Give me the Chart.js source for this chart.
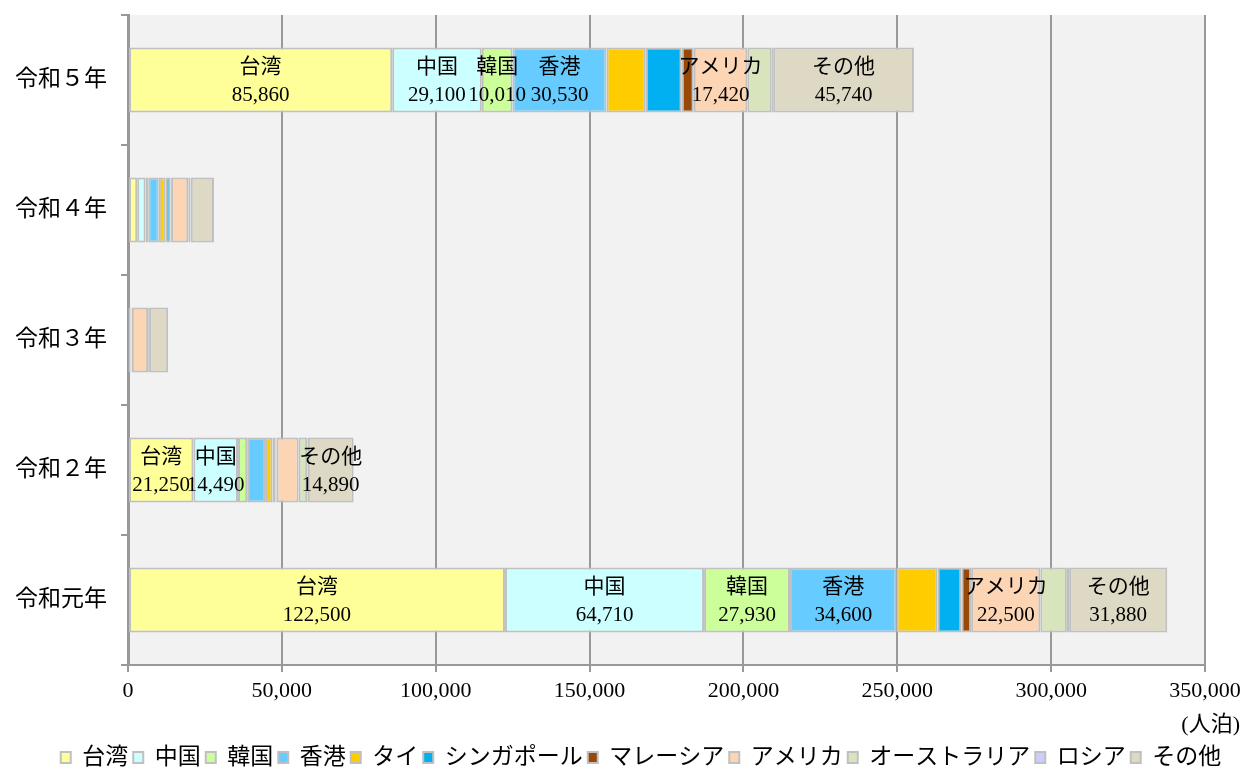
<!DOCTYPE html>
<html>
<head>
<meta charset="utf-8">
<script src="https://cdn.jsdelivr.net/npm/chart.js@4/dist/chart.umd.min.js"></script>
<style>
html,body{margin:0;padding:0;background:#fff;}
#wrap{width:1250px;height:769px;position:relative;}
</style>
</head>
<body>
<div id="wrap"><canvas id="c" width="1250" height="769"></canvas></div>
<script>
const categories = ['令和５年', '令和４年', '令和３年', '令和２年', '令和元年'];
const seriesNames = ['台湾', '中国', '韓国', '香港', 'タイ', 'シンガポール', 'マレーシア', 'アメリカ', 'オーストラリア', 'ロシア', 'その他'];
const taiwan    = [85860, 3000, 200, 21250, 122500];
const china     = [29100, 2700, 500, 14490, 64710];
const korea     = [10010, 900, 100, 3000, 27930];
const hongkong  = [30530, 3400, 200, 5800, 34600];
const thailand  = [12750, 2200, 100, 2400, 13300];
const singapore = [11700, 1600, 100, 1000, 7800];
const malaysia  = [3900, 200, 50, 300, 3160];
const usa       = [17420, 5600, 5300, 7200, 22500];
const australia = [7900, 700, 300, 2800, 8600];
const russia    = [500, 100, 0, 200, 750];
const others    = [45740, 7550, 6200, 14890, 31880];
const seriesValues = [taiwan, china, korea, hongkong, thailand, singapore, malaysia, usa, australia, russia, others];
const seriesColors = ['#FFFF99', '#CCFFFF', '#CCFF99', '#66CCFF', '#FFCC00', '#00B0F0', '#984807', '#FCD5B4', '#D8E4BC', '#CCCCFF', '#DDD9C4'];
const xTicks = [0, 50000, 100000, 150000, 200000, 250000, 300000, 350000];
const unitLabel = '(人泊)';
// which series carry a data label in each category row
const labeledRows = [
  ['台湾', '中国', '韓国', '香港', 'アメリカ', 'その他'],
  [],
  [],
  ['台湾', '中国', 'その他'],
  ['台湾', '中国', '韓国', '香港', 'アメリカ', 'その他']
];

const FONT = "'Liberation Serif', 'Noto Sans CJK JP', serif";
const fmt = v => v.toLocaleString('en-US');

const bgPlugin = {
  id: 'bg',
  beforeDraw(chart) {
    const {ctx, chartArea: a} = chart;
    ctx.save();
    ctx.fillStyle = '#ffffff';
    ctx.fillRect(0, 0, chart.width, chart.height);
    ctx.fillStyle = '#f2f2f2';
    ctx.fillRect(a.left, a.top, a.right - a.left, a.bottom - a.top);
    ctx.restore();
  }
};

const labelPlugin = {
  id: 'segLabels',
  afterDatasetsDraw(chart) {
    const ctx = chart.ctx;
    ctx.save();
    ctx.fillStyle = '#000';
    ctx.textAlign = 'center';
    ctx.textBaseline = 'middle';
    ctx.font = '21px ' + FONT;
    chart.data.datasets.forEach((ds, di) => {
      const meta = chart.getDatasetMeta(di);
      meta.data.forEach((el, i) => {
        if (!labeledRows[i].includes(ds.label)) return;
        const cx = (el.x + el.base) / 2;
        const cy = el.y;
        ctx.fillText(ds.label, cx, cy - 13);
        ctx.fillText(fmt(ds.data[i]), cx, cy + 15);
      });
    });
    ctx.restore();
  }
};

const unitPlugin = {
  id: 'unit',
  afterDraw(chart) {
    const ctx = chart.ctx;
    ctx.save();
    ctx.fillStyle = '#000';
    ctx.textAlign = 'right';
    ctx.textBaseline = 'middle';
    ctx.font = '22px ' + FONT;
    ctx.fillText(unitLabel, chart.chartArea.right + 35, 725);
    ctx.restore();
  }
};

new Chart(document.getElementById('c'), {
  type: 'bar',
  data: {
    labels: categories,
    datasets: seriesNames.map((name, k) => ({
      label: name,
      data: seriesValues[k],
      backgroundColor: seriesColors[k],
      borderColor: '#c0c0c0',
      borderWidth: 2,
      borderSkipped: false,
      categoryPercentage: 1.0,
      barPercentage: 0.5
    }))
  },
  options: {
    indexAxis: 'y',
    responsive: false,
    animation: false,
    devicePixelRatio: 1,
    layout: {padding: {top: 15, right: -32, left: 0, bottom: -10}},
    scales: {
      x: {
        stacked: true,
        min: 0,
        max: 350000,
        afterBuildTicks(scale) { scale.ticks = xTicks.map(v => ({value: v})); },
        afterFit(scale) { scale.height = 76; scale.paddingRight = 45; scale.paddingLeft = 0; },
        ticks: {
          color: '#000',
          font: {family: FONT, size: 22},
          padding: 6,
          maxRotation: 0,
          callback: v => fmt(v)
        },
        grid: {color: '#999', lineWidth: 2, drawTicks: true, tickLength: 7, tickColor: '#999'},
        border: {display: true, color: '#999', width: 2}
      },
      y: {
        stacked: true,
        afterFit(scale) { scale.width = 128; scale.paddingTop = 0; scale.paddingBottom = 0; },
        ticks: {
          color: '#000',
          font: {family: FONT, size: 23},
          padding: 14
        },
        grid: {display: true, drawOnChartArea: false, drawTicks: true, tickLength: 7, color: '#999', lineWidth: 2, offset: true},
        border: {display: true, color: '#999', width: 3}
      }
    },
    plugins: {
      legend: {
        position: 'bottom',
        labels: {
          color: '#000',
          font: {family: FONT, size: 23},
          boxWidth: 10,
          boxHeight: 11,
          padding: 5
        }
      },
      tooltip: {enabled: false},
      title: {display: false}
    }
  },
  plugins: [bgPlugin, labelPlugin, unitPlugin]
});
</script>
</body>
</html>
